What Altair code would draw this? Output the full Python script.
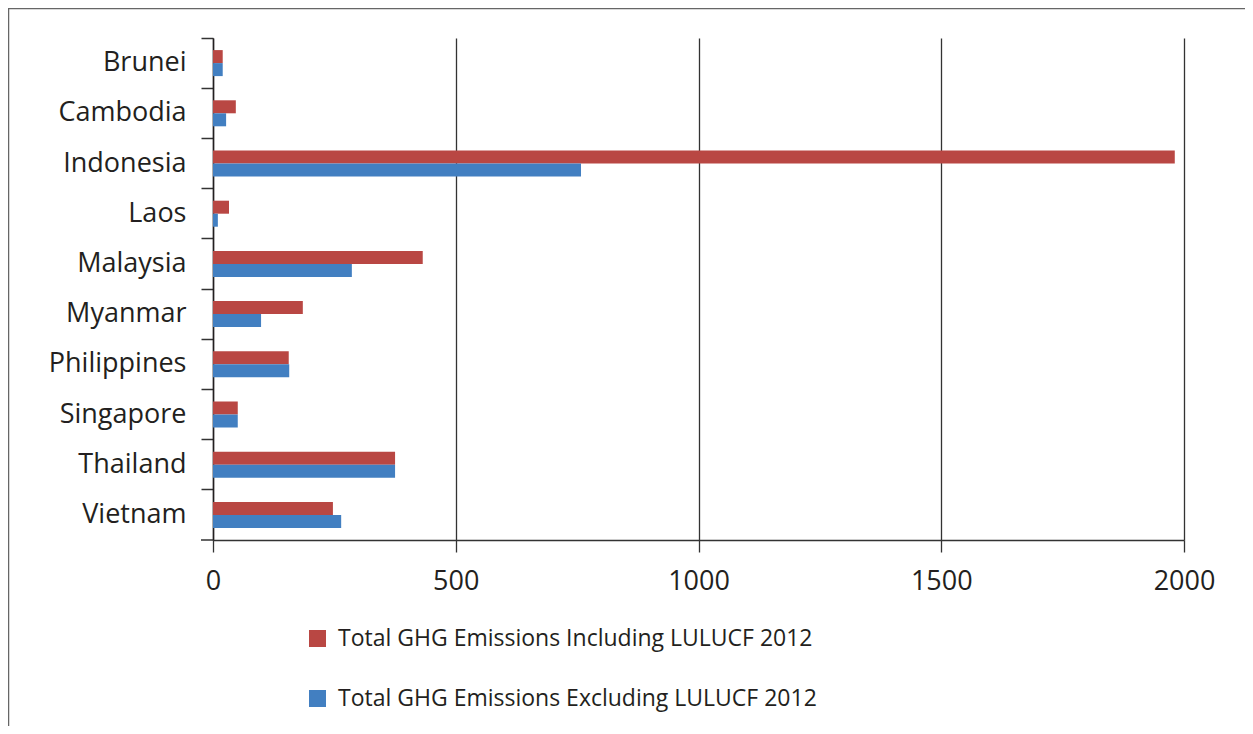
import altair as alt
import pandas as pd

countries = ["Brunei", "Cambodia", "Indonesia", "Laos", "Malaysia", "Myanmar",
             "Philippines", "Singapore", "Thailand", "Vietnam"]
incl = [20, 47, 1981, 33, 432, 185, 156, 51, 375, 247]
excl = [20, 27, 758, 10, 286, 99, 157, 51, 375, 264]
series = ["Total GHG Emissions Including LULUCF 2012",
          "Total GHG Emissions Excluding LULUCF 2012"]
colors = ["#B94743", "#427FC1"]
x_ticks = [0, 500, 1000, 1500, 2000]

rows = []
for c, a, b in zip(countries, incl, excl):
    rows.append({"country": c, "series": series[0], "value": a})
    rows.append({"country": c, "series": series[1], "value": b})
df = pd.DataFrame(rows)

FONT = "Open Sans"
TXT = "#231F20"
W, H = 971, 502

bars = alt.Chart(df).mark_bar().encode(
    y=alt.Y("country:N", sort=countries,
            scale=alt.Scale(paddingInner=0, paddingOuter=0),
            axis=alt.Axis(title=None, bandPosition=0, tickSize=12,
                          labelPadding=15, labelFontSize=27, labelFont=FONT,
                          labelColor=TXT, tickColor="#333333", tickWidth=1.5,
                          domainColor=TXT, domainWidth=1.5, grid=False)),
    x=alt.X("value:Q", scale=alt.Scale(domain=[0, 2000], nice=False),
            axis=alt.Axis(values=x_ticks, title=None, grid=True, gridColor="#333333",
                          gridWidth=1.3, tickSize=12, tickColor="#333333", tickWidth=1.3,
                          domainColor="#333333", domainWidth=1.3, labelFlush=False,
                          labelPadding=16, labelFontSize=27, labelFont=FONT,
                          labelColor=TXT, format="d")),
    yOffset=alt.YOffset("series:N", sort=series,
                        scale=alt.Scale(paddingInner=0, paddingOuter=0.93)),
    color=alt.Color("series:N", scale=alt.Scale(domain=series, range=colors),
                    legend=alt.Legend(title=None, orient="none", legendX=93, legendY=589,
                                      direction="vertical", symbolType="square",
                                      symbolSize=289, symbolStrokeWidth=0,
                                      labelFontSize=23, labelFont=FONT, labelColor=TXT,
                                      labelOffset=9, rowPadding=36, padding=0,
                                      labelLimit=800)),
)

deco = pd.DataFrame({"k": [0]})
frame = alt.Chart(deco).mark_rect(filled=False, stroke="#666666", strokeWidth=1.5).encode(
    x=alt.value(-204.5), x2=alt.value(1200), y=alt.value(-29.5), y2=alt.value(900)
)
bottom_tick = alt.Chart(deco).mark_rule(color="#333333", strokeWidth=1.5).encode(
    x=alt.value(-12), x2=alt.value(0), y=alt.value(H)
)

chart = alt.layer(frame, bars, bottom_tick).properties(
    width=W, height=H,
    autosize=alt.AutoSizeParams(type="none"),
    padding={"left": 205, "top": 30, "right": 61, "bottom": 186},
).configure_view(stroke=None)

chart.save("out.html", embed_options={"renderer": "svg", "actions": False})
